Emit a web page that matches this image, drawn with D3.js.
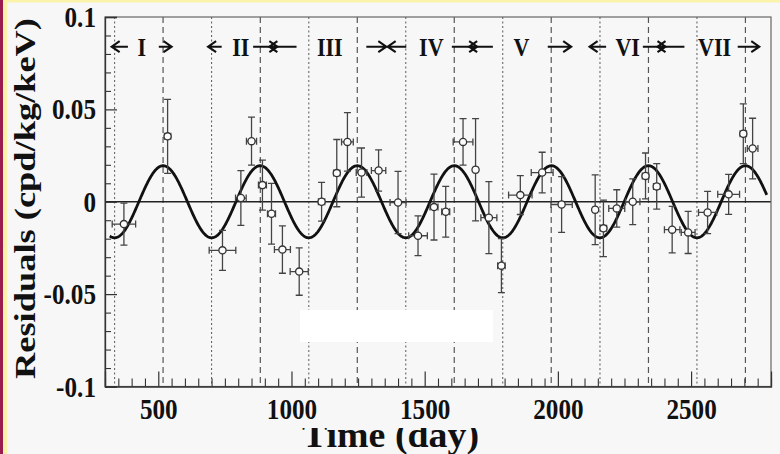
<!DOCTYPE html>
<html>
<head>
<meta charset="utf-8">
<script src="https://cdn.jsdelivr.net/npm/d3@7"></script>
<style>
  html, body { margin: 0; padding: 0; background: #f7f7f7; }
  svg { display: block; }
</style>
</head>
<body>
<svg id="chart" width="780" height="454"></svg>
<script>
// Residual rate per time bin (2-6 keV), with bin half-widths and errors
const days        = [371, 535, 741, 810, 850, 891, 925, 966, 1029, 1113, 1170, 1210, 1263, 1327, 1400, 1475, 1535, 1579, 1644, 1691, 1741, 1788, 1859, 1941, 2014, 2140, 2171, 2221, 2281, 2329, 2371, 2429, 2489, 2562, 2641, 2696, 2731];
const residuals   = [-0.0121, 0.0354, -0.0263, 0.0020, 0.0328, 0.0090, -0.0065, -0.0259, -0.0378, 0.0000, 0.0155, 0.0324, 0.0158, 0.0169, -0.0004, -0.0184, -0.0029, -0.0054, 0.0324, 0.0173, -0.0086, -0.0346, 0.0036, 0.0158, -0.0015, -0.0043, -0.0144, -0.0036, 0.0000, 0.0140, 0.0083, -0.0151, -0.0166, -0.0058, 0.0040, 0.0368, 0.0288];
const residualErr = [0.0114, 0.0200, 0.0108, 0.0148, 0.0130, 0.0135, 0.0164, 0.0128, 0.0128, 0.0105, 0.0182, 0.0158, 0.0133, 0.0112, 0.0168, 0.0108, 0.0178, 0.0137, 0.0126, 0.0277, 0.0195, 0.0146, 0.0105, 0.0110, 0.0151, 0.0189, 0.0153, 0.0101, 0.0124, 0.0124, 0.0123, 0.0126, 0.0114, 0.0114, 0.0108, 0.0162, 0.0164];
const dayErr      = [44, 12, 50, 20, 19, 15, 15, 30, 34, 12, 12, 22, 20, 27, 30, 35, 15, 15, 37, 8, 30, 14, 44, 41, 40, 8, 12, 30, 27, 12, 12, 29, 26, 34, 41, 12, 20];

// Axis ticks
const xMajorTicks = [500, 1000, 1500, 2000, 2500];
const xTickLabels = ["500", "1000", "1500", "2000", "2500"];
const yMajorTicks = [-0.1, -0.05, 0, 0.05, 0.1];
const yTickLabels = ["-0.1", "-0.05", "0", "0.05", "0.1"];

// Annual cycles shown across the top
const cycleLabels    = ["I", "II", "III", "IV", "V", "VI", "VII"];
const cycleStart     = [325, 687, 917, 1361, 1667, 2119, 2374];
const cycleLeftTail  = [386, 738, 1019, 1431, 1756, 2181, 2475];
const cycleLabelAt   = [438, 810, 1144, 1525, 1863, 2262, 2588];
const cycleRightTail = [502, 856, 1281, 1602, 1962, 2319, 2675];
const cycleEnd       = [550, 947, 1356, 1697, 2050, 2404, 2756];

// Expected maxima (dashed) and minima (dotted) of the modulation
const peakDays   = [518, 883, 1247, 1611, 1975, 2340, 2704];
const troughDays = [336, 700, 1065, 1429, 1793, 2158, 2522];

// Fitted cosine modulation A cos(2pi (t - t0) / T)
const fitAmplitude = 0.0195;
const fitPeriod = 364.3;
const fitPhase = 154;
const fitRange = [318, 2785];

const serif = "'Liberation Serif', 'Times New Roman', serif";
const svg = d3.select("#chart");

// page background with coloured edges
svg.append("rect").attr("width", 780).attr("height", 454).attr("fill", "#f7f7f7");
svg.append("rect").attr("x", 0).attr("y", 0).attr("width", 780).attr("height", 2.4).attr("fill", "#fbf3a9");
svg.append("rect").attr("x", 3).attr("y", 0).attr("width", 4.3).attr("height", 454).attr("fill", "#fbf3a9");
svg.append("rect").attr("x", 0).attr("y", 0).attr("width", 3).attr("height", 454).attr("fill", "#9b1d4f");

const x = d3.scaleLinear().domain([300, 2800]).range([105, 771]);
const y = d3.scaleLinear().domain([-0.1, 0.1]).range([386.5, 17]);
const [x0, x1] = x.range();
const [yb, yt] = y.range();

svg.append("clipPath").attr("id", "plotClip")
  .append("rect").attr("x", x0).attr("y", yt).attr("width", x1 - x0).attr("height", yb - yt);

const plot = svg.append("g").attr("clip-path", "url(#plotClip)");

// vertical reference lines
plot.selectAll("line.peak").data(peakDays).join("line")
  .attr("class", "peak")
  .attr("x1", d => x(d)).attr("x2", d => x(d))
  .attr("y1", yt).attr("y2", yb)
  .attr("stroke", "#555").attr("stroke-width", 1.2).attr("stroke-dasharray", "6,4");
plot.selectAll("line.trough").data(troughDays).join("line")
  .attr("class", "trough")
  .attr("x1", d => x(d)).attr("x2", d => x(d))
  .attr("y1", yt).attr("y2", yb)
  .attr("stroke", "#666").attr("stroke-width", 1.1).attr("stroke-dasharray", "2,2.5");

// zero line
plot.append("line")
  .attr("x1", x0).attr("x2", x1).attr("y1", y(0)).attr("y2", y(0))
  .attr("stroke", "#222").attr("stroke-width", 1.3);

// fitted curve
const curveDays = d3.range(fitRange[0], fitRange[1] + 1, 2);
const fit = t => fitAmplitude * Math.cos(2 * Math.PI * (t - fitPhase) / fitPeriod);
plot.append("path")
  .datum(curveDays)
  .attr("d", d3.line().x(d => x(d)).y(d => y(fit(d))))
  .attr("fill", "none").attr("stroke", "#111").attr("stroke-width", 2.8);

// error bars and markers
const pts = days.map((d, i) => ({ t: d, v: residuals[i], ev: residualErr[i], et: dayErr[i] }));
const bars = plot.append("g").attr("stroke", "#444").attr("stroke-width", 1.3).attr("fill", "none");
const cap = 3.5;
pts.forEach(p => {
  const cx = x(p.t), cy = y(p.v);
  const yTop = y(p.v + p.ev), yBot = y(p.v - p.ev);
  const xl = x(p.t - p.et), xr = x(p.t + p.et);
  bars.append("path").attr("d",
    `M${cx},${yTop}V${yBot}` +
    `M${cx - cap},${yTop}H${cx + cap}M${cx - cap},${yBot}H${cx + cap}` +
    `M${xl},${cy}H${xr}` +
    `M${xl},${cy - cap}V${cy + cap}M${xr},${cy - cap}V${cy + cap}`);
});
plot.selectAll("circle.pt").data(pts).join("circle")
  .attr("class", "pt")
  .attr("cx", d => x(d.t)).attr("cy", d => y(d.v)).attr("r", 3.6)
  .attr("fill", "#fbfbfb").attr("stroke", "#333").attr("stroke-width", 1.3);

// cycle annotations
const ann = svg.append("g");
const arrowY = 46.7;
const arrow = (from, to) => {
  const dir = Math.sign(to - from);
  ann.append("path")
    .attr("d", `M${from},${arrowY}H${to}M${to - dir * 8},${arrowY - 5.5}L${to},${arrowY}L${to - dir * 8},${arrowY + 5.5}`)
    .attr("fill", "none").attr("stroke", "#111").attr("stroke-width", 2.1);
};
cycleLabels.forEach((lab, i) => {
  arrow(x(cycleLeftTail[i]), x(cycleStart[i]));
  arrow(x(cycleRightTail[i]), x(cycleEnd[i]));
  ann.append("text")
    .attr("transform", `translate(${x(cycleLabelAt[i])},55.5) scale(0.88,1)`)
    .attr("text-anchor", "middle")
    .attr("font-family", serif).attr("font-weight", "bold").attr("font-size", 25)
    .attr("fill", "#111")
    .text(lab);
});

// frame
svg.append("rect")
  .attr("x", x0).attr("y", yt).attr("width", x1 - x0).attr("height", yb - yt)
  .attr("fill", "none").attr("stroke", "#666").attr("stroke-width", 1.2);

// axes with inward ticks
const labelScale = 0.84;
const xMinor = d3.range(300, 2801, 50).filter(d => d % 500 !== 0);
svg.append("g").attr("transform", `translate(0,${yb})`)
  .call(d3.axisBottom(x).tickValues(xMinor).tickSize(-8).tickFormat(""))
  .call(g => g.select(".domain").remove())
  .selectAll("line").attr("stroke", "#333").attr("stroke-width", 1.1);
const xAxis = svg.append("g").attr("transform", `translate(0,${yb})`)
  .call(d3.axisBottom(x).tickValues(xMajorTicks).tickSize(-15).tickPadding(11)
    .tickFormat((d, i) => xTickLabels[i]));
xAxis.select(".domain").attr("stroke", "#333").attr("stroke-width", 1.3);
xAxis.selectAll("line").attr("stroke", "#333").attr("stroke-width", 1.2);
xAxis.selectAll("text")
  .attr("font-family", serif).attr("font-weight", "bold").attr("font-size", 30)
  .attr("fill", "#111").attr("transform", `scale(${labelScale},1)`);

const yMinor = d3.range(-10, 11).map(d => d / 100).filter(d => Math.abs(d * 20 - Math.round(d * 20)) > 1e-9);
svg.append("g").attr("transform", `translate(${x0},0)`)
  .call(d3.axisLeft(y).tickValues(yMinor).tickSize(-6).tickFormat(""))
  .call(g => g.select(".domain").remove())
  .selectAll("line").attr("stroke", "#333").attr("stroke-width", 1.1);
const yAxis = svg.append("g").attr("transform", `translate(${x0},0)`)
  .call(d3.axisLeft(y).tickValues(yMajorTicks).tickSize(-12).tickPadding(9)
    .tickFormat((d, i) => yTickLabels[i]));
yAxis.select(".domain").attr("stroke", "#333").attr("stroke-width", 1.3);
yAxis.selectAll("line").attr("stroke", "#333").attr("stroke-width", 1.2);
yAxis.selectAll("text")
  .attr("font-family", serif).attr("font-weight", "bold").attr("font-size", 30)
  .attr("fill", "#111")
  .attr("x", -9 / labelScale)
  .attr("transform", `scale(${labelScale},1)`);

// blank patch inside the plot area
svg.append("rect").attr("x", 300).attr("y", 310).attr("width", 193).attr("height", 32).attr("fill", "#ffffff");

// axis titles
svg.append("text")
  .attr("transform", "translate(35,198.5) rotate(-90)")
  .attr("text-anchor", "middle")
  .attr("font-family", serif).attr("font-weight", "bold").attr("font-size", 30)
  .attr("textLength", 361).attr("lengthAdjust", "spacingAndGlyphs")
  .attr("fill", "#111")
  .text("Residuals (cpd/kg/keV)");

// the title's upper edge is cut off along the bottom of the figure
svg.append("clipPath").attr("id", "titleClip")
  .append("rect").attr("x", 0).attr("y", 428).attr("width", 780).attr("height", 26);
svg.append("text")
  .attr("clip-path", "url(#titleClip)")
  .attr("x", 302).attr("y", 446.7)
  .attr("font-family", serif).attr("font-weight", "bold").attr("font-size", 35)
  .attr("textLength", 177).attr("lengthAdjust", "spacingAndGlyphs")
  .attr("fill", "#111")
  .text("Time (day)");
</script>
</body>
</html>
